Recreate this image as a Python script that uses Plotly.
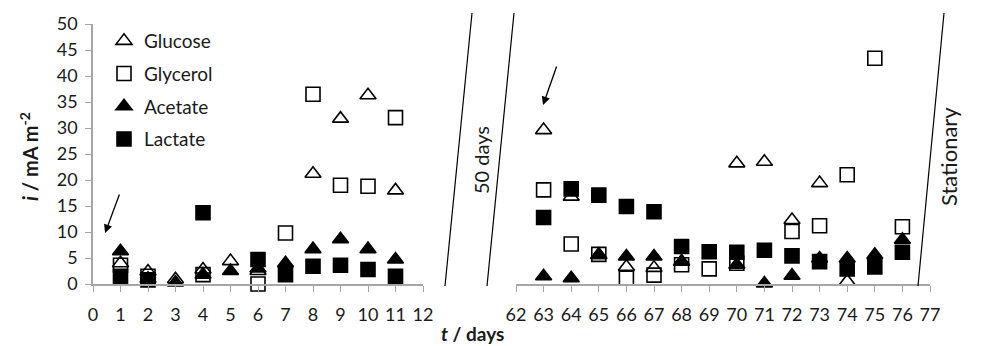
import plotly.graph_objects as go

# ---- data ----
days_a = [1, 2, 3, 4, 5, 6, 7, 8, 9, 10, 11]
glucose_a = [4.0, 2.4, 0.9, 2.8, 4.4, 2.5, None, 21.2, 31.8, 36.3, 18.0]
glycerol_a = [3.6, 1.5, None, 1.8, None, 0.0, 9.8, 36.5, 19.0, 18.8, 32.0]
acetate_a = [6.3, 1.0, 0.3, 1.8, 2.5, 3.0, 4.0, 6.7, 8.6, 6.7, 4.7]
lactate_a = [1.5, 0.8, None, 13.7, None, 4.7, 1.8, 3.4, 3.6, 2.8, 1.5]

days_b = [63, 64, 65, 66, 67, 68, 69, 70, 71, 72, 73, 74, 75, 76]
glucose_b = [29.6, 16.8, 5.6, 3.3, 3.1, 4.3, None, 23.2, 23.5, 12.3, 19.4, 0.5, None, None]
glycerol_b = [18.1, 7.7, 5.7, 1.1, 1.7, 3.7, 2.9, 4.0, None, 10.1, 11.2, 21.0, 43.4, 11.0]
acetate_b = [1.5, 1.1, 5.6, 5.3, 5.3, 4.3, None, 3.7, 0.1, 1.6, 4.9, 4.9, 5.6, 8.5]
lactate_b = [12.8, 18.3, 17.1, 14.9, 13.9, 7.2, 6.2, 6.1, 6.5, 5.4, 4.3, 2.9, 3.3, 6.1]

names = ["Glucose", "Glycerol", "Acetate", "Lactate"]
symbols = ["triangle-up-open", "square-open", "triangle-up", "square"]
series_a = [glucose_a, glycerol_a, acetate_a, lactate_a]
series_b = [glucose_b, glycerol_b, acetate_b, lactate_b]

y_ticks = list(range(0, 51, 5))
x_ticks_a = list(range(0, 13))
x_ticks_b = list(range(62, 78))

# page has an 8px body margin, so the figure is drawn from (8, 8)
OFF = 8
W, H = 994 - OFF, 346 - OFF
FONT = "Lato"
TXT = "#1a1a1a"
AX = "#a6a6a6"

def px(x):
    return (x - OFF) / W

def py(y):
    return 1 - (y - OFF) / H

fig = go.Figure()
for i in range(4):
    mk = dict(symbol=symbols[i], size=14, color="black",
              line=dict(color="black", width=1.6))
    fig.add_trace(go.Scatter(x=days_a, y=series_a[i], mode="markers", name=names[i],
                             marker=mk, cliponaxis=False, legendgroup=names[i],
                             xaxis="x", yaxis="y"))
    fig.add_trace(go.Scatter(x=days_b, y=series_b[i], mode="markers", name=names[i],
                             marker=mk, cliponaxis=False, legendgroup=names[i],
                             showlegend=False, xaxis="x2", yaxis="y"))

axis_common = dict(showgrid=False, zeroline=False, showline=True, linecolor=AX,
                   linewidth=1.5, ticks="outside", tickcolor=AX, ticklen=6,
                   tickwidth=1.2, tickfont=dict(family=FONT, size=18, color=TXT),
                   automargin=False)

fig.update_layout(
    width=W, height=H,
    margin=dict(l=0, r=0, t=0, b=0),
    paper_bgcolor="white", plot_bgcolor="white",
    font=dict(family=FONT, color=TXT),
    xaxis=dict(domain=[px(93), px(423)], range=[0, 12], tickvals=x_ticks_a,
               anchor="y", ticklabelstandoff=8, **axis_common),
    xaxis2=dict(domain=[px(516), px(930)], range=[62, 77], tickvals=x_ticks_b,
                anchor="y", ticklabelstandoff=8, **axis_common),
    yaxis=dict(domain=[py(284), py(24)], range=[0, 50], tickvals=y_ticks,
               anchor="x", ticklabelstandoff=4, **axis_common),
    showlegend=True,
    legend=dict(x=px(104), y=py(22), xanchor="left", yanchor="top",
                bgcolor="rgba(0,0,0,0)", font=dict(family=FONT, size=19, color=TXT),
                traceorder="grouped", tracegroupgap=5, itemwidth=30),
)

# slanted break lines
for (x0, y0, x1, y1) in [(472, 13, 445, 286), (514, 13, 487, 286), (944, 13, 918, 286)]:
    fig.add_shape(type="line", xref="paper", yref="paper",
                  x0=px(x0), y0=py(y0), x1=px(x1), y1=py(y1),
                  line=dict(color="black", width=1.2))

annos = [
    dict(text="50 days", x=px(481), y=py(160), textangle=-90, size=20),
    dict(text="Stationary", x=px(949), y=py(157), textangle=-90, size=22),
    dict(text="<b><i>t</i> / days</b>", x=px(472), y=py(333), textangle=0, size=19),
    dict(text="<b><i>i</i> / mA m<sup>-2</sup></b>", x=px(29), y=py(157), textangle=-90, size=20),
]
for a in annos:
    sz = a.pop("size")
    fig.add_annotation(xref="paper", yref="paper", showarrow=False,
                       font=dict(family=FONT, size=sz, color=TXT),
                       xanchor="center", yanchor="middle", **a)

# arrows
fig.add_annotation(x=0.44, y=9.8, ax=0.98, ay=17.5, xref="x", yref="y",
                   axref="x", ayref="y", text="", showarrow=True,
                   arrowhead=2, arrowsize=1.3, arrowwidth=1.3, arrowcolor="black")
fig.add_annotation(x=62.98, y=34.4, ax=63.49, ay=42.1, xref="x2", yref="y",
                   axref="x2", ayref="y", text="", showarrow=True,
                   arrowhead=2, arrowsize=1.3, arrowwidth=1.3, arrowcolor="black")

fig.write_html("out.html")
